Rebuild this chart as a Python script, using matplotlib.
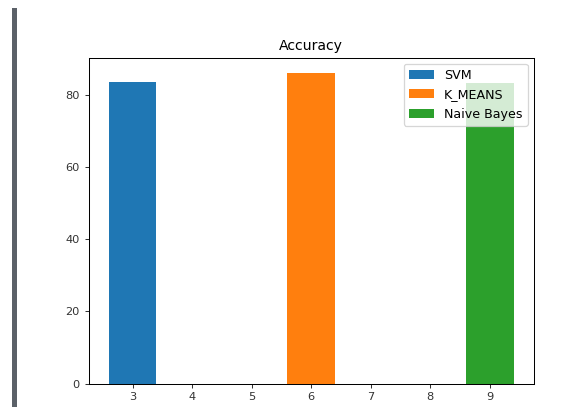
import matplotlib
matplotlib.use("Agg")
import matplotlib.pyplot as plt
from matplotlib.patches import Rectangle

# Accuracy of each classifier, placed at its own x position
models = ["SVM", "K_MEANS", "Naive Bayes"]
positions = [3, 6, 9]
accuracy = [83.5, 86.0, 83.3]
colors = ["#1f77b4", "#ff7f0e", "#2ca02c"]

W, H = 584, 407
dpi = 91.25
fig = plt.figure(figsize=(W / dpi, H / dpi), dpi=dpi)

# thin grey band along the left edge
fig.patches.append(Rectangle((12 / W, 0), 5 / W, 1 - 8 / H,
                             transform=fig.transFigure, facecolor="#5b6168",
                             edgecolor="none", zorder=0))

ax = fig.add_axes([88.5 / W, 1 - 383.5 / H, (534 - 88.5) / W, (383.5 - 57.5) / H])

for pos, val, name, col in zip(positions, accuracy, models, colors):
    ax.bar(pos, val, width=0.8, color=col, label=name)

ax.set_title("Accuracy", fontsize=11)
ax.tick_params(labelsize=9, colors="#333333")
ax.legend(loc="upper right", fontsize=10)

fig.savefig("out.png", dpi=dpi)
